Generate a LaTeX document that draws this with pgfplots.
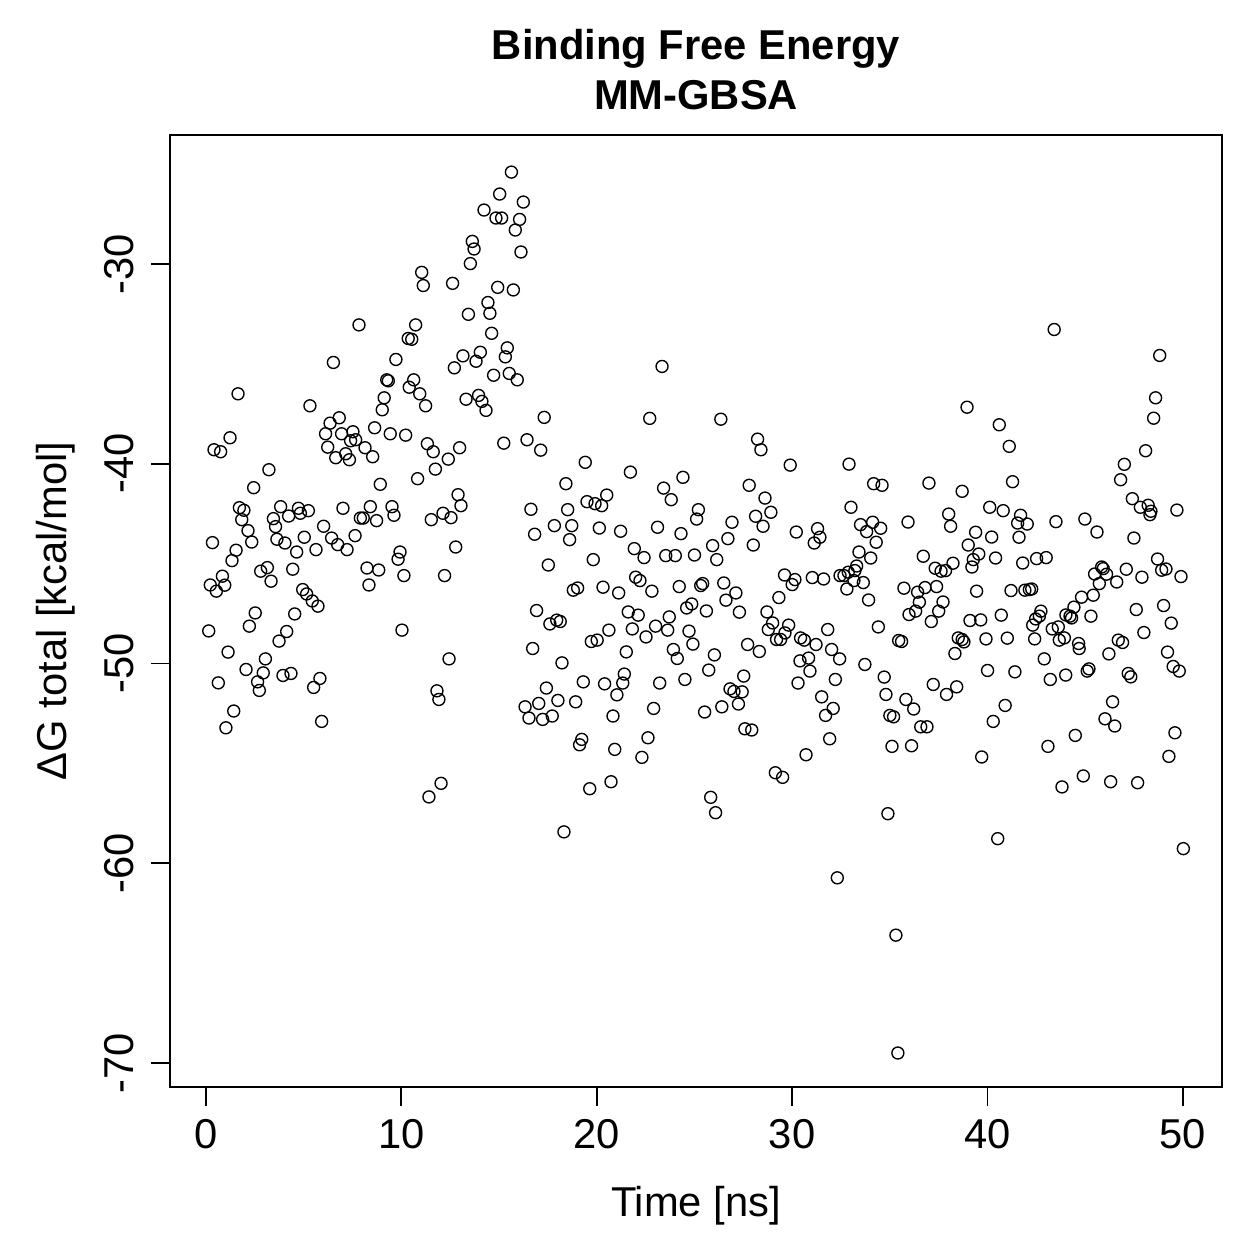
\documentclass[border=0pt]{standalone}
\usepackage{pgfplots}
\pgfplotsset{compat=1.18}
\usepackage{fontspec}
\setmainfont{Liberation Sans}
\begin{document}
\begin{tikzpicture}
\begin{axis}[
  width=421pt, height=381pt, scale only axis,
  xmin=-1.84, xmax=52.0, ymin=-71.2, ymax=-23.54,
  axis line style={line width=0.75pt},
  xtick={0,10,20,30,40,50}, xticklabels={0,10,20,30,40,50},
  ytick={-70,-60,-50,-40,-30}, yticklabels={-70,-60,-50,-40,-30},
  xtick pos=bottom, ytick pos=left,
  tick align=outside, major tick length=7.6pt,
  tick style={line width=0.75pt, black},
  ticklabel style={font=\fontsize{16.7}{19}\selectfont},
  xticklabel style={anchor=north, inner sep=0pt, yshift=-5.3pt},
  yticklabel style={xshift=-7.2pt, rotate=90, anchor=base, inner sep=0pt},
  clip=false,
]
\addplot[only marks, mark=o, mark size=2.4pt, mark options={line width=0.55pt, black}] table {
x y
11.04 -30.42
11.12 -31.08
12.62 -30.97
7.83 -33.05
10.73 -33.05
10.35 -33.73
10.53 -33.77
6.52 -34.93
9.72 -34.78
12.71 -35.20
1.64 -36.50
9.25 -35.80
9.33 -35.85
10.63 -35.80
10.40 -36.17
10.94 -36.50
11.24 -37.10
9.12 -36.70
9.02 -37.30
5.32 -37.10
6.82 -37.70
6.35 -37.97
6.12 -38.50
6.94 -38.50
7.52 -38.40
7.40 -38.85
7.66 -38.80
6.23 -39.17
8.14 -39.20
7.15 -39.50
6.64 -39.70
7.34 -39.80
8.53 -39.65
8.63 -38.20
9.43 -38.50
10.22 -38.57
11.33 -39.00
11.63 -39.40
12.40 -39.77
11.74 -40.27
12.98 -39.20
1.23 -38.70
0.41 -39.30
0.75 -39.40
3.22 -40.30
10.83 -40.75
15.63 -25.40
15.03 -26.50
16.24 -26.90
14.23 -27.30
14.84 -27.70
15.13 -27.70
16.05 -27.77
15.83 -28.30
13.63 -28.87
13.72 -29.25
13.53 -29.98
16.12 -29.40
14.93 -31.17
15.73 -31.30
14.43 -31.93
14.53 -32.47
13.43 -32.52
14.62 -33.47
15.42 -34.20
15.32 -34.65
13.15 -34.60
14.04 -34.42
13.82 -34.87
14.72 -35.57
15.52 -35.48
15.93 -35.80
13.31 -36.77
13.95 -36.58
14.12 -36.88
14.33 -37.33
17.31 -37.68
22.71 -37.73
26.35 -37.77
23.34 -35.13
15.24 -38.97
16.43 -38.80
17.13 -39.32
19.41 -39.93
21.72 -40.42
24.41 -40.68
18.42 -41.00
28.23 -38.77
28.40 -39.30
29.90 -40.07
32.91 -40.02
38.95 -37.17
27.80 -41.08
34.17 -41.00
34.60 -41.08
37.00 -40.97
43.41 -33.28
48.81 -34.58
48.60 -36.70
48.50 -37.72
40.60 -38.05
41.11 -39.13
48.09 -39.35
47.00 -40.03
41.28 -40.90
46.81 -40.80
2.44 -41.20
8.92 -41.03
1.71 -42.20
1.94 -42.33
1.83 -42.80
2.15 -43.35
2.34 -43.92
0.33 -43.95
1.54 -44.33
1.33 -44.85
0.84 -45.63
0.22 -46.07
0.96 -46.08
0.53 -46.38
3.82 -42.15
3.45 -42.75
3.56 -43.15
4.23 -42.62
4.73 -42.23
4.83 -42.48
5.24 -42.35
3.63 -43.78
4.04 -43.97
5.03 -43.68
4.64 -44.42
5.63 -44.30
6.02 -43.13
6.43 -43.72
6.74 -44.05
7.22 -44.30
7.63 -43.60
7.01 -42.23
7.90 -42.72
8.05 -42.72
8.41 -42.15
8.73 -42.85
9.52 -42.15
9.62 -42.58
11.53 -42.80
12.13 -42.48
12.54 -42.70
12.90 -41.55
13.05 -42.10
12.78 -44.17
9.93 -44.42
9.83 -44.78
10.13 -45.60
12.21 -45.60
8.24 -45.22
8.84 -45.32
8.34 -46.07
2.80 -45.38
3.14 -45.20
3.33 -45.88
4.44 -45.28
4.95 -46.30
5.15 -46.52
5.44 -46.87
5.73 -47.13
4.54 -47.52
2.52 -47.47
2.22 -48.13
0.14 -48.37
4.13 -48.40
3.74 -48.88
10.03 -48.33
1.13 -49.43
3.04 -49.77
2.05 -50.30
2.93 -50.47
2.64 -50.92
2.73 -51.35
0.63 -50.97
3.94 -50.60
4.35 -50.50
5.83 -50.75
5.51 -51.20
1.42 -52.38
1.02 -53.22
5.92 -52.90
12.44 -49.77
11.82 -51.37
11.92 -51.80
12.03 -56.00
11.41 -56.68
16.63 -42.28
16.82 -43.53
17.83 -43.10
18.51 -42.30
18.72 -43.10
18.61 -43.80
19.50 -41.90
19.91 -42.00
20.25 -42.10
20.51 -41.57
20.13 -43.22
21.22 -43.38
17.52 -45.07
19.82 -44.80
23.42 -41.22
23.81 -41.80
25.20 -42.30
25.11 -42.77
23.11 -43.18
24.31 -43.50
21.92 -44.25
22.42 -44.70
23.53 -44.60
24.02 -44.60
25.00 -44.57
25.93 -44.10
26.14 -44.80
18.80 -46.33
19.02 -46.22
20.32 -46.18
21.12 -46.47
21.99 -45.68
22.21 -45.85
22.82 -46.38
24.22 -46.15
25.32 -46.10
25.42 -46.00
16.92 -47.35
17.60 -48.02
17.95 -47.83
18.13 -47.90
16.72 -49.25
18.22 -49.97
19.72 -48.90
20.02 -48.83
20.62 -48.33
21.61 -47.42
22.12 -47.58
21.82 -48.27
22.52 -48.67
23.01 -48.13
23.63 -48.33
23.71 -47.67
24.60 -47.22
24.86 -47.02
25.61 -47.37
24.72 -48.38
24.92 -49.03
23.92 -49.30
24.12 -49.75
21.51 -49.42
26.02 -49.57
25.73 -50.33
24.51 -50.80
23.22 -50.98
21.41 -50.53
21.33 -50.98
21.03 -51.57
20.40 -51.02
19.31 -50.92
18.92 -51.92
17.42 -51.23
18.01 -51.85
17.03 -52.00
16.33 -52.17
16.53 -52.73
17.23 -52.80
17.72 -52.63
20.83 -52.63
22.91 -52.25
25.52 -52.43
26.40 -52.17
19.23 -53.80
19.12 -54.07
20.92 -54.30
22.62 -53.72
22.31 -54.70
20.73 -55.92
19.64 -56.27
25.83 -56.70
26.08 -57.47
18.32 -58.43
28.61 -41.72
28.91 -42.43
28.13 -42.63
28.51 -43.13
26.92 -42.93
26.71 -43.75
28.01 -44.07
30.21 -43.42
31.30 -43.25
31.42 -43.68
31.13 -43.97
33.01 -42.18
38.70 -41.38
33.50 -43.05
33.81 -43.40
34.12 -42.93
34.53 -43.23
34.30 -43.93
35.93 -42.92
38.01 -42.52
38.11 -43.13
39.39 -43.43
39.01 -44.07
39.27 -44.80
39.20 -45.17
39.55 -44.52
33.42 -44.42
34.02 -44.72
36.71 -44.63
37.32 -45.23
37.62 -45.38
37.85 -45.35
38.23 -44.98
37.39 -46.15
36.80 -46.20
35.72 -46.23
36.42 -46.43
36.51 -46.93
36.32 -47.38
35.98 -47.55
37.72 -46.92
37.50 -47.38
37.12 -47.90
39.10 -47.85
39.65 -47.82
39.44 -46.38
29.61 -45.57
30.14 -45.80
30.00 -46.05
31.03 -45.70
31.61 -45.77
32.45 -45.60
32.65 -45.60
32.87 -45.43
33.21 -45.35
33.30 -45.12
33.16 -45.85
33.64 -45.95
32.80 -46.27
33.91 -46.82
29.32 -46.70
26.50 -45.97
27.12 -46.47
26.61 -46.83
27.30 -47.43
28.71 -47.42
29.00 -47.97
28.78 -48.30
29.20 -48.80
29.41 -48.80
29.63 -48.47
29.82 -48.08
27.72 -49.05
28.32 -49.40
30.43 -48.72
30.62 -48.83
31.22 -49.05
31.82 -48.30
32.02 -49.30
32.43 -49.77
30.40 -49.87
30.84 -49.73
30.91 -50.38
30.30 -50.98
32.21 -50.80
31.51 -51.67
32.10 -52.25
31.71 -52.60
30.71 -54.57
31.92 -53.77
34.41 -48.17
35.45 -48.85
35.60 -48.90
33.72 -50.05
34.71 -50.68
34.80 -51.55
35.82 -51.80
36.22 -52.28
35.00 -52.60
35.19 -52.67
36.58 -53.17
36.90 -53.17
35.11 -54.15
36.11 -54.12
37.22 -51.05
37.90 -51.55
38.42 -51.17
38.33 -49.50
38.50 -48.72
38.70 -48.80
38.79 -48.92
26.82 -51.27
27.02 -51.40
27.44 -51.42
27.52 -50.63
27.25 -52.03
27.58 -53.27
27.93 -53.33
29.14 -55.47
29.51 -55.70
39.70 -54.68
34.90 -57.52
32.31 -60.73
35.31 -63.60
35.41 -69.50
40.11 -42.18
40.80 -42.35
41.69 -42.58
41.54 -42.97
42.03 -43.02
41.61 -43.68
43.50 -42.90
44.98 -42.77
45.60 -43.42
47.41 -41.75
47.82 -42.18
48.22 -42.08
48.36 -42.38
48.31 -42.55
49.69 -42.32
47.49 -43.72
40.21 -43.67
40.41 -44.72
41.80 -44.97
42.51 -44.75
43.00 -44.70
41.20 -46.35
41.91 -46.33
42.14 -46.30
42.26 -46.27
40.70 -47.58
39.92 -48.77
41.01 -48.73
42.73 -47.38
42.65 -47.63
42.46 -47.77
42.31 -48.08
42.41 -48.77
43.31 -48.27
43.62 -48.17
43.67 -48.83
43.93 -48.72
44.01 -47.57
44.22 -47.63
44.30 -47.72
44.42 -47.18
44.81 -46.68
45.29 -47.63
45.41 -46.58
45.72 -46.00
45.48 -45.52
45.84 -45.17
45.92 -45.25
46.09 -45.53
46.61 -45.92
47.10 -45.28
47.90 -45.68
48.70 -44.77
48.91 -45.33
49.13 -45.27
49.90 -45.65
47.61 -47.30
49.01 -47.10
49.40 -47.98
48.00 -48.45
46.69 -48.83
46.91 -48.95
46.21 -49.52
44.66 -49.00
44.69 -49.25
42.90 -49.77
40.00 -50.35
41.40 -50.42
43.21 -50.80
44.00 -50.58
45.10 -50.38
45.19 -50.27
47.20 -50.50
47.33 -50.67
49.21 -49.43
49.50 -50.15
49.81 -50.38
40.90 -52.10
40.29 -52.90
46.40 -51.92
46.01 -52.77
46.51 -53.13
44.49 -53.60
43.09 -54.15
49.59 -53.47
49.28 -54.65
43.81 -56.18
44.90 -55.63
46.30 -55.92
47.68 -55.97
40.52 -58.77
50.02 -59.27
};
\coordinate (BL) at (rel axis cs:0,0);
\coordinate (TR) at (rel axis cs:1,1);
\coordinate (TC) at (rel axis cs:0.5,1);
\coordinate (BC) at (rel axis cs:0.5,0);
\coordinate (LC) at (rel axis cs:0,0.5);
\end{axis}
\node[anchor=base, font=\fontsize{16.7}{19}\selectfont\bfseries, inner sep=0pt] at ([yshift=30pt]TC) {Binding Free Energy};
\node[anchor=base, font=\fontsize{16.7}{19}\selectfont\bfseries, inner sep=0pt] at ([yshift=10pt]TC) {MM-GBSA};
\node[anchor=base, font=\fontsize{16.7}{19}\selectfont, inner sep=0pt] at ([yshift=-51.9pt]BC) {Time [ns]};
\node[anchor=base, rotate=90, font=\fontsize{16.7}{19}\selectfont, inner sep=0pt] at ([xshift=-41.3pt]LC) {ΔG total [kcal/mol]};
\pgfresetboundingbox
\path[use as bounding box] ([xshift=-68.05pt,yshift=-68.85pt]BL) rectangle ([xshift=14.8pt,yshift=54pt]TR);
\end{tikzpicture}
\end{document}
